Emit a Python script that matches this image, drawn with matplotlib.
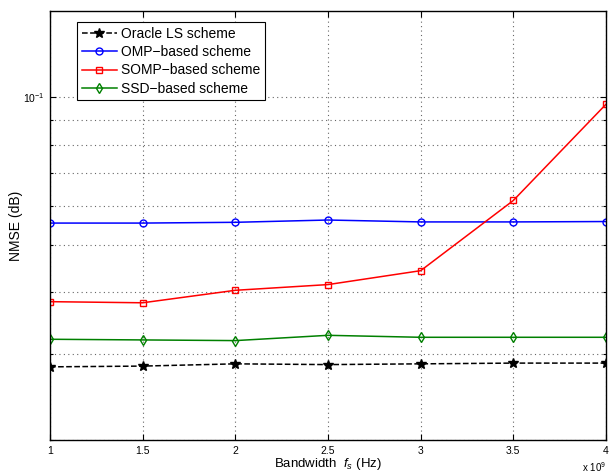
import numpy as np
import matplotlib
matplotlib.use('Agg')
import matplotlib.pyplot as plt
from matplotlib.ticker import LogLocator, NullFormatter, FixedLocator

# bandwidth in units of 1e9 Hz
bandwidth = [1.0, 1.5, 2.0, 2.5, 3.0, 3.5, 4.0]

oracle_ls = [0.0282, 0.0283, 0.0286, 0.0285, 0.0286, 0.0287, 0.0287]
omp = [0.0554, 0.0554, 0.0556, 0.0562, 0.0557, 0.0557, 0.0558]
somp = [0.0383, 0.0381, 0.0404, 0.0415, 0.0443, 0.0616, 0.0968]
ssd = [0.0321, 0.0320, 0.0319, 0.0327, 0.0324, 0.0324, 0.0324]

plt.rcParams['font.family'] = ['Liberation Sans', 'DejaVu Sans']
plt.rcParams['mathtext.fontset'] = 'custom'
plt.rcParams['mathtext.it'] = 'Liberation Sans:italic'
plt.rcParams['mathtext.rm'] = 'Liberation Sans'

fig = plt.figure(figsize=(6.11, 4.74), dpi=100)
ax = fig.add_axes([50 / 611, 34 / 474, 556 / 611, 429 / 474])

ax.plot(bandwidth, oracle_ls, 'k--', marker='*', markersize=7, linewidth=1.1,
        label='Oracle LS scheme')
ax.plot(bandwidth, omp, 'b-', marker='o', markersize=5, markerfacecolor='none',
        linewidth=1.1, label='OMP\u2212based scheme')
ax.plot(bandwidth, somp, 'r-', marker='s', markersize=5, markerfacecolor='none',
        linewidth=1.1, label='SOMP\u2212based scheme')
ax.plot(bandwidth, ssd, '-', color='#008000', marker='d', markersize=5,
        markerfacecolor='none', linewidth=1.1, label='SSD\u2212based scheme')

ax.set_yscale('log')
ax.set_xlim(1, 4)
ax.set_ylim(0.02, 0.15)
ax.set_xticks(bandwidth)
ax.set_xticklabels(['1', '1.5', '2', '2.5', '3', '3.5', '4'])
ax.yaxis.set_major_locator(FixedLocator([0.1]))
ax.set_yticklabels([r'10$^{-1}$'])
ax.yaxis.set_minor_locator(LogLocator(base=10, subs=np.arange(2, 10)))
ax.yaxis.set_minor_formatter(NullFormatter())

ax.tick_params(which='both', direction='in', top=True, right=True,
               labelsize=7.5, width=0.8)
ax.tick_params(which='major', length=4, pad=4)
ax.tick_params(which='minor', length=2)

grid_style = dict(linestyle=(0, (1, 3)), color='#666666', linewidth=0.8)
ax.grid(True, axis='x', which='major', **grid_style)
ax.grid(True, axis='y', which='both', **grid_style)

for s in ax.spines.values():
    s.set_linewidth(1.0)

ax.set_xlabel(r'Bandwidth  $f_s$ (Hz)', fontsize=9.5)
ax.xaxis.set_label_coords(0.5, -0.037)
ax.set_ylabel('NMSE (dB)', fontsize=10, va='center', ha='center')
ax.yaxis.set_label_coords(-0.062, 0.5)
ax.text(1.0, -0.063, r'x 10$^9$', transform=ax.transAxes, fontsize=7,
        ha='right', va='center')

leg = ax.legend(loc='upper left', bbox_to_anchor=(0.036, 0.99), fontsize=10,
                handlelength=2.5, handletextpad=0.3, borderpad=0.35,
                labelspacing=0.3, fancybox=False, framealpha=1,
                edgecolor='black')
leg.get_frame().set_linewidth(0.8)

fig.savefig('out.png', dpi=100)
